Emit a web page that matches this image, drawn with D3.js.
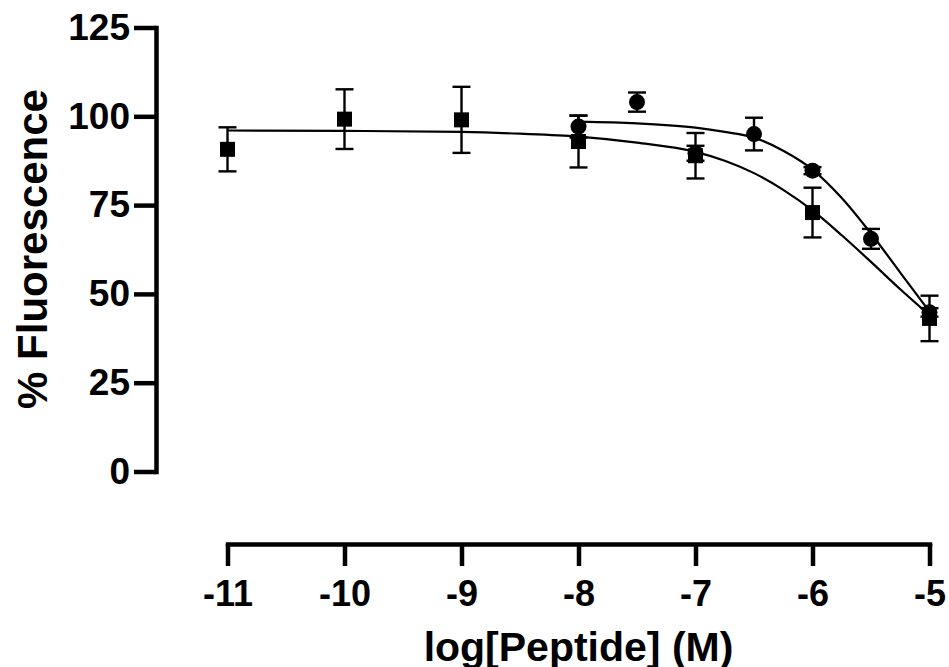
<!DOCTYPE html>
<html>
<head>
<meta charset="utf-8">
<script src="https://cdn.jsdelivr.net/npm/d3@7"></script>
<style>
  body { margin: 0; background: #fff; }
  svg { display: block; }
  text { font-family: "Liberation Sans", Arial, sans-serif; font-weight: bold; }
</style>
</head>
<body>
<script>
// square series (mean, SEM)
const squareX = [-11, -10, -9, -8, -7, -6, -5];
const squareY = [90.7, 99.2, 99.0, 92.9, 88.9, 72.9, 43.1];
const squareErr = [6.2, 8.4, 9.3, 7.3, 6.4, 7.0, 6.4];

// circle series (mean, SEM)
const circleX = [-8, -7.5, -7, -6.5, -6, -5.5, -5];
const circleY = [97.1, 104.0, 89.6, 95.0, 84.7, 65.5, 44.8];
const circleErr = [3.1, 2.7, 2.1, 4.6, 1.0, 2.8, 1.2];

// fitted curves
const squareFitX = [-11, -10, -9, -8.5, -8, -7.5, -7, -6.75, -6.5, -6.25, -6, -5.75, -5.5, -5.25, -5];
const squareFitY = [96.0, 95.9, 95.6, 95.1, 94.3, 92.6, 90.0, 87.5, 84.0, 79.3, 73.5, 66.5, 59.0, 51.3, 44.0];
const circleFitX = [-8, -7.5, -7, -6.75, -6.5, -6.25, -6, -5.75, -5.5, -5.25, -5];
const circleFitY = [98.5, 98.0, 96.8, 95.6, 94.0, 90.3, 85.0, 77.0, 67.0, 56.0, 45.0];

const xTicks = [-11, -10, -9, -8, -7, -6, -5];
const yTicks = [0, 25, 50, 75, 100, 125];

const width = 949, height = 667;

const svg = d3.select(document.body).append('svg')
  .attr('width', width)
  .attr('height', height);

const x = d3.scaleLinear().domain([-11, -5]).range([227.5, 929.5]);
const y = d3.scaleLinear().domain([0, 125]).range([471.5, 27.5]);

// y axis
const yAxis = svg.append('g')
  .attr('transform', 'translate(156,0)')
  .call(d3.axisLeft(y).tickValues(yTicks).tickSize(22).tickSizeOuter(0).tickPadding(4));
yAxis.select('.domain').attr('stroke-width', 4.5).attr('stroke-linecap', 'square');
yAxis.selectAll('.tick line').attr('stroke-width', 4.5);
yAxis.selectAll('.tick text').attr('font-size', 37).attr('fill', '#000');

// x axis, offset below the plot
const xAxis = svg.append('g')
  .attr('transform', 'translate(0,544)')
  .call(d3.axisBottom(x).tickValues(xTicks).tickSize(22).tickSizeOuter(0).tickPadding(14));
xAxis.select('.domain').attr('stroke-width', 4.5).attr('stroke-linecap', 'square');
xAxis.selectAll('.tick line').attr('stroke-width', 4.5);
xAxis.selectAll('.tick text').attr('font-size', 36).attr('fill', '#000')
  .text(d => String(d));

// titles
svg.append('text')
  .attr('transform', 'translate(47,249) rotate(-90)')
  .attr('text-anchor', 'middle')
  .attr('font-size', 42)
  .text('% Fluorescence');
svg.append('text')
  .attr('x', 578.5).attr('y', 661)
  .attr('text-anchor', 'middle')
  .attr('font-size', 41)
  .text('log[Peptide] (M)');

// fitted curves
const line = d3.line().x(d => x(d[0])).y(d => y(d[1])).curve(d3.curveMonotoneX);
[[squareFitX, squareFitY], [circleFitX, circleFitY]].forEach(([xs, ys]) => {
  svg.append('path')
    .datum(xs.map((v, i) => [v, ys[i]]))
    .attr('d', line)
    .attr('fill', 'none')
    .attr('stroke', '#000')
    .attr('stroke-width', 2.2);
});

// error bars
function errorBars(xs, ys, es) {
  const g = svg.append('g').attr('stroke', '#000').attr('stroke-width', 2.4);
  xs.forEach((v, i) => {
    const cx = x(v), top = y(ys[i] + es[i]), bot = y(ys[i] - es[i]);
    g.append('line').attr('x1', cx).attr('x2', cx).attr('y1', top).attr('y2', bot);
    g.append('line').attr('x1', cx - 9).attr('x2', cx + 9).attr('y1', top).attr('y2', top);
    g.append('line').attr('x1', cx - 9).attr('x2', cx + 9).attr('y1', bot).attr('y2', bot);
  });
}
errorBars(squareX, squareY, squareErr);
errorBars(circleX, circleY, circleErr);

// markers
svg.append('g').selectAll('rect')
  .data(squareX.map((v, i) => [v, squareY[i]]))
  .join('rect')
  .attr('x', d => x(d[0]) - 7.5)
  .attr('y', d => y(d[1]) - 7.5)
  .attr('width', 15).attr('height', 15)
  .attr('fill', '#000');
svg.append('g').selectAll('circle')
  .data(circleX.map((v, i) => [v, circleY[i]]))
  .join('circle')
  .attr('cx', d => x(d[0]))
  .attr('cy', d => y(d[1]))
  .attr('r', 8)
  .attr('fill', '#000');
</script>
</body>
</html>
